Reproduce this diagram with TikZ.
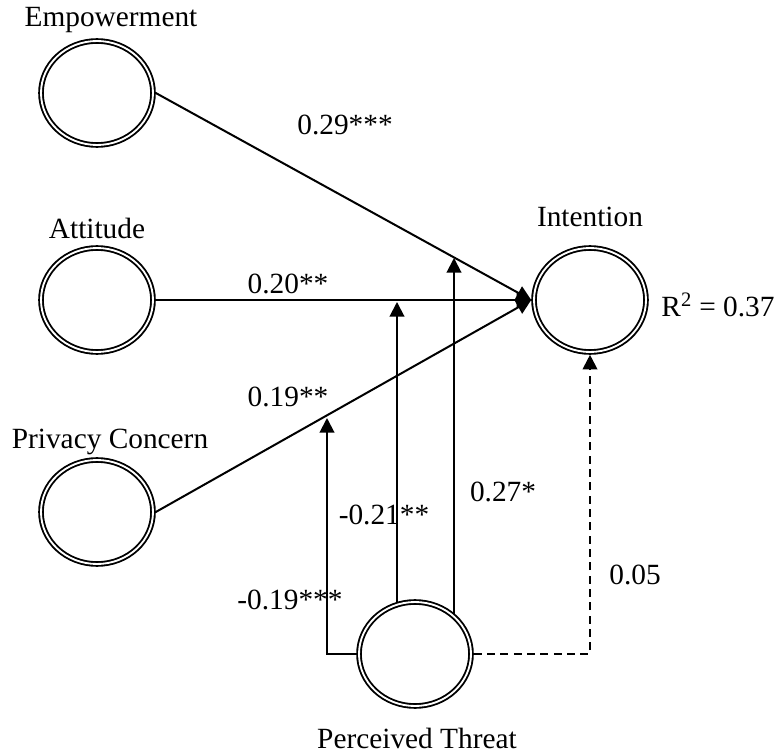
\documentclass[tikz,border=0pt]{standalone}
\usepackage{fontspec}
\setmainfont{Liberation Serif}
\usetikzlibrary{arrows.meta,shapes.geometric,backgrounds}

\begin{document}
\begin{tikzpicture}[
      x=0.75pt, y=-0.75pt,
      every node/.style={font=\fontsize{22}{26}\selectfont},
      latent/.style={draw, ellipse, double, line width=1.4pt, double distance=1.4pt, fill=white, inner sep=0pt, outer sep=2.1pt, minimum width=84pt, minimum height=78pt},
      arrow/.style={-{Triangle[length=11pt,width=11pt]}, line width=1.5pt},
      nsarrow/.style={arrow, dashed, dash pattern=on 6pt off 4pt}
  ]
    \useasboundingbox (0,0) rectangle (774,755);
    % constructs
    \node[latent] (emp) at (97,93) {};
    \node[latent] (att) at (97,300) {};
    \node[latent] (pc) at (97,512) {};
    \node[latent] (int) at (590,300) {};
    \node[latent] (pt) at (415,654) {};
    \node at (111,20) {Empowerment};
    \node at (97,228) {Attitude};
    \node at (110,442) {Privacy Concern};
    \node at (590,217) {Intention};
    \node at (718,305) {R\textsuperscript{2} = 0.37};
    \node at (417,738) {Perceived Threat};
    % moderation targets
    \coordinate (m1) at (397,302);
    \coordinate (m2) at (454,258);
    \coordinate (m3) at (327,418);
    % paths
    \draw[arrow] (emp.east) -- (int.west);
    \draw[arrow] (att.east) -- (int.west);
    \draw[arrow] (pc.east) -- (int.west);
    \begin{pgfonlayer}{background}
      \draw[arrow] (m1 |- pt.center) -- (m1);
      \draw[arrow] (m2 |- pt.center) -- (m2);
    \end{pgfonlayer}
    \draw[arrow] (pt.west) -| (m3);
    \draw[nsarrow] (pt.east) -| (int.south);
    % coefficients
    \node at (345,125) {0.29***};
    \node at (288,284) {0.20**};
    \node at (288,397) {0.19**};
    \node at (384,515) {-0.21**};
    \node at (503,492) {0.27*};
    \node at (290,600) {-0.19***};
    \node at (635,575) {0.05};
  \end{tikzpicture}
\end{document}
